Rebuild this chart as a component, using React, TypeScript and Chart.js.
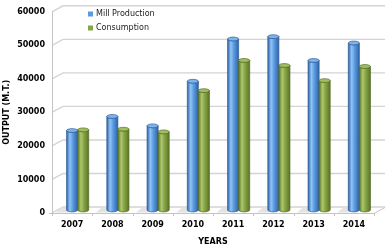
import { useEffect, useRef } from 'react';
import { Chart, registerables } from 'chart.js';

Chart.register(...registerables);

const years = ['2007', '2008', '2009', '2010', '2011', '2012', '2013', '2014'];
const millProduction = [23700, 27900, 25100, 38400, 51000, 51700, 44600, 49800];
const consumption = [23900, 24100, 23300, 35600, 44600, 43100, 38600, 42800];
const seriesNames = ['Mill Production', 'Consumption'];
const yMin = 0;
const yMax = 60000;
const yStep = 10000;

const DX = 11;
const DY = 6;

const palettes = [
  { dark: '#2f63a6', light: '#92c4f5', mid: '#5d9de3', cap: '#7db4ee', edge: '#2d5c98', legend: '#5b9be0' },
  { dark: '#5a7427', light: '#adc86c', mid: '#89a747', cap: '#a2bd60', edge: '#526b22', legend: '#86a546' },
];

const threeD = {
  id: 'threeD',
  beforeDatasetsDraw(chart: any) {
    const { ctx, chartArea, scales } = chart;
    const y = scales.y;
    const left = chartArea.left;
    const right = chartArea.right;
    const yb = y.getPixelForValue(0);
    ctx.save();
    ctx.strokeStyle = '#d4d4d4';
    ctx.lineWidth = 1.4;
    for (const t of y.ticks) {
      const py = y.getPixelForValue(t.value);
      ctx.beginPath();
      ctx.moveTo(left, py);
      ctx.lineTo(left + DX, py - DY);
      ctx.lineTo(right + DX, py - DY);
      ctx.stroke();
    }
    ctx.strokeStyle = '#c4c4c4';
    ctx.lineWidth = 1;
    ctx.beginPath();
    ctx.moveTo(left + 0.5, y.getPixelForValue(yMax));
    ctx.lineTo(left + 0.5, yb);
    ctx.stroke();
    ctx.beginPath();
    ctx.moveTo(left, yb + 0.5);
    ctx.lineTo(right, yb + 0.5);
    ctx.lineTo(right + DX, yb - DY + 0.5);
    ctx.stroke();
    const n = years.length;
    const cw = (right - left) / n;
    ctx.beginPath();
    for (let i = 0; i <= n; i++) {
      const px = Math.round(left + i * cw) + 0.5;
      ctx.moveTo(px, yb);
      ctx.lineTo(px, yb + 3);
    }
    ctx.moveTo(left - 3, yb + 0.5);
    ctx.lineTo(left, yb + 0.5);
    ctx.stroke();
    const meta0 = chart.getDatasetMeta(0);
    ctx.fillStyle = '#e3e3e3';
    meta0.data.forEach((el: any) => {
      const { x: bx, width } = el.getProps(['x', 'width'], true);
      const xl = bx - width / 2 + DX / 2;
      ctx.beginPath();
      ctx.moveTo(xl - 11, yb - 0.5);
      ctx.lineTo(xl + 1, yb - 0.5);
      ctx.lineTo(xl + 1, yb - 5);
      ctx.lineTo(xl - 5, yb - 5.5);
      ctx.closePath();
      ctx.fill();
    });
    ctx.restore();
  },
  afterDatasetsDraw(chart: any) {
    const { ctx } = chart;
    ctx.save();
    ctx.translate(DX / 2, -DY / 2);
    chart.data.datasets.forEach((_ds: any, di: number) => {
      const meta = chart.getDatasetMeta(di);
      const p = palettes[di];
      meta.data.forEach((el: any) => {
        const { x: bx, y: by, base, width } = el.getProps(['x', 'y', 'base', 'width'], true);
        const rx = width / 2;
        const ry = 1.9;
        const g = ctx.createLinearGradient(bx - rx, 0, bx + rx, 0);
        g.addColorStop(0, p.dark);
        g.addColorStop(0.3, p.light);
        g.addColorStop(0.55, p.mid);
        g.addColorStop(1, p.dark);
        ctx.beginPath();
        ctx.moveTo(bx - rx, by);
        ctx.lineTo(bx - rx, base);
        ctx.ellipse(bx, base, rx, ry, 0, Math.PI, 0, true);
        ctx.lineTo(bx + rx, by);
        ctx.ellipse(bx, by, rx, ry, 0, 0, Math.PI, false);
        ctx.closePath();
        ctx.fillStyle = g;
        ctx.fill();
        ctx.strokeStyle = p.edge;
        ctx.lineWidth = 0.7;
        ctx.stroke();
        ctx.beginPath();
        ctx.ellipse(bx, by, rx, ry, 0, 0, Math.PI * 2);
        ctx.fillStyle = p.cap;
        ctx.fill();
        ctx.stroke();
      });
    });
    ctx.restore();
  },
  afterDraw(chart: any) {
    const { ctx } = chart;
    ctx.save();
    ctx.font = '8px "DejaVu Sans"';
    ctx.textBaseline = 'middle';
    ctx.textAlign = 'left';
    chart.data.datasets.forEach((ds: any, di: number) => {
      const cy = 14 + di * 14;
      ctx.fillStyle = palettes[di].legend;
      ctx.fillRect(88, cy - 2.5, 5, 5);
      ctx.fillStyle = '#222';
      ctx.fillText(ds.label, 96, cy);
    });
    ctx.restore();
  },
};

export default function App() {
  const ref = useRef<HTMLCanvasElement>(null);
  useEffect(() => {
    if (!ref.current) return;
    const chart = new Chart(ref.current, {
      type: 'bar',
      data: {
        labels: years,
        datasets: [
          { label: seriesNames[0], data: millProduction, backgroundColor: 'rgba(0,0,0,0)', borderWidth: 0 },
          { label: seriesNames[1], data: consumption, backgroundColor: 'rgba(0,0,0,0)', borderWidth: 0 },
        ],
      },
      options: {
        responsive: false,
        animation: false,
        events: [],
        layout: { padding: { top: 9, right: 13, left: 0, bottom: 0 } },
        datasets: { bar: { categoryPercentage: 0.55, barPercentage: 1 } },
        plugins: { legend: { display: false }, tooltip: { enabled: false } },
        scales: {
          x: {
            grid: { display: false, drawTicks: false },
            border: { display: false },
            ticks: { color: '#000', font: { family: 'DejaVu Sans', size: 8, weight: 'bold' }, padding: 7, maxRotation: 0 },
            title: { display: true, text: 'YEARS', color: '#000', font: { family: 'DejaVu Sans', size: 8, weight: 'bold' }, padding: { top: 0, bottom: 1 } },
            afterFit: (s: any) => { s.height = 35; },
          },
          y: {
            min: yMin,
            max: yMax,
            grid: { display: false, drawTicks: false },
            border: { display: false },
            ticks: {
              stepSize: yStep,
              color: '#000',
              font: { family: 'DejaVu Sans', size: 8, weight: 'bold' },
              padding: 7,
              callback: (v: any) => String(v),
            },
            title: { display: true, text: 'OUTPUT (M.T.)', color: '#000', font: { family: 'DejaVu Sans', size: 8, weight: 'bold' }, padding: { top: 2.5, bottom: 0 } },
            afterFit: (s: any) => { s.width = 52; },
          },
        },
      },
      plugins: [threeD],
    });
    return () => chart.destroy();
  }, []);
  return (
    <div style={{ position: 'absolute', left: 0, top: 0, width: 387, height: 248 }}>
      <canvas ref={ref} width={387} height={248} />
    </div>
  );
}
